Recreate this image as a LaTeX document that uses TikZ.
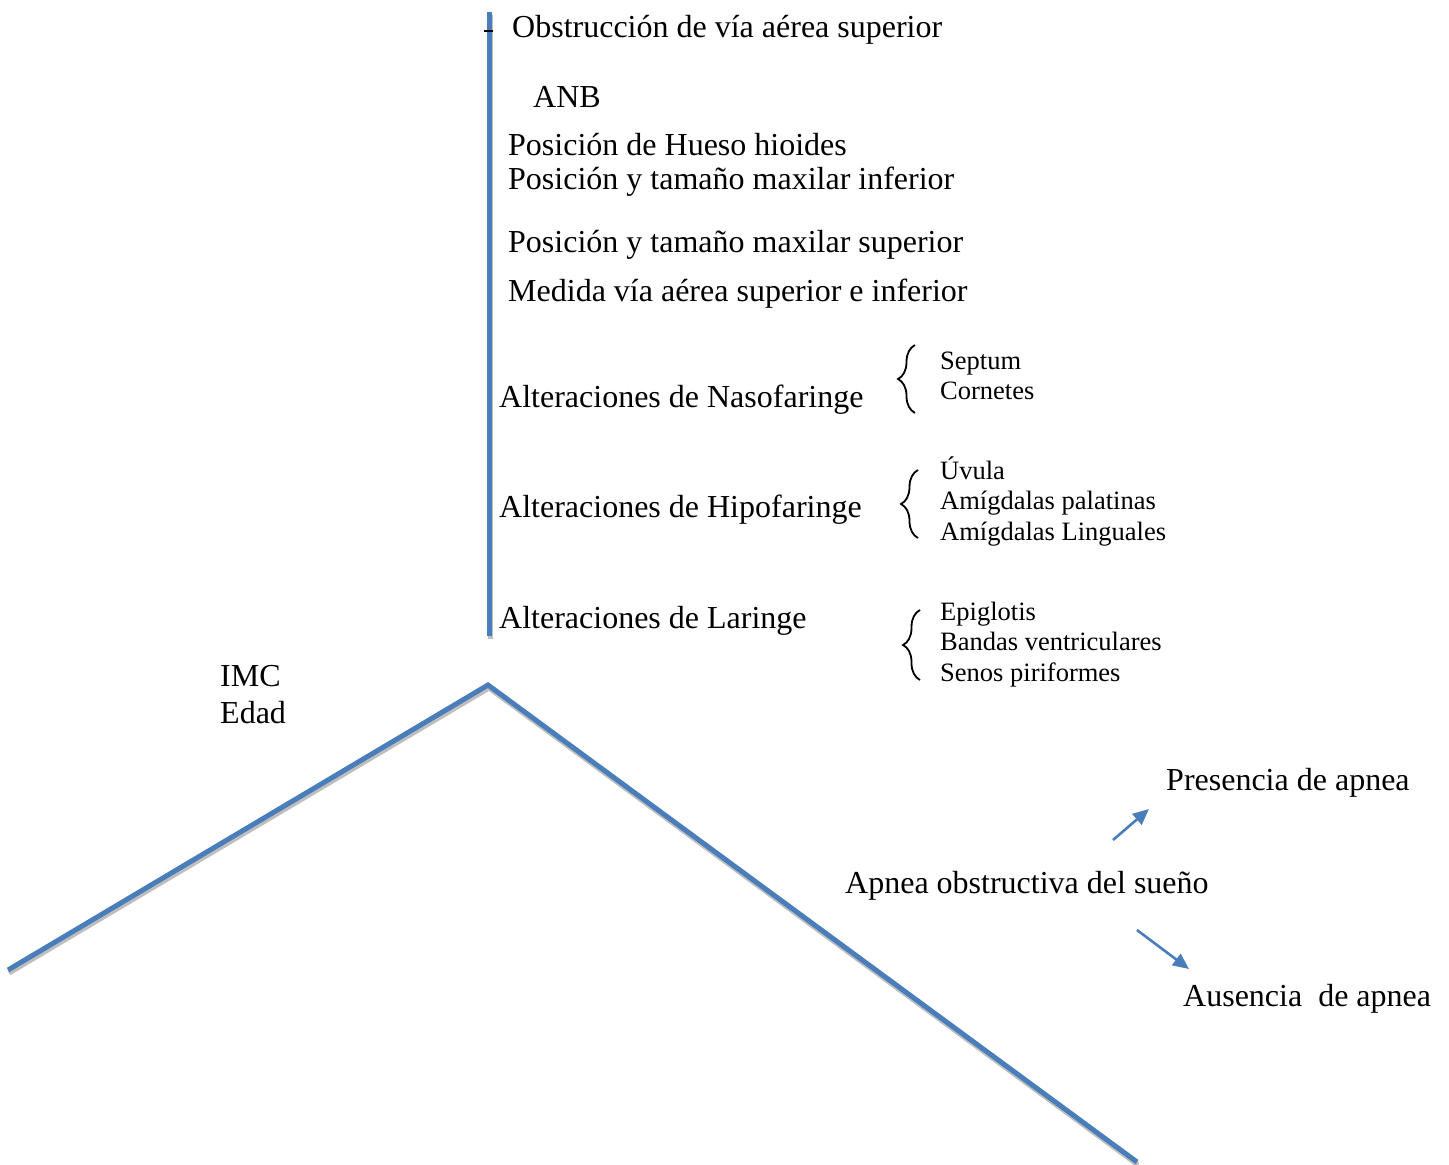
\documentclass[tikz,border=0pt]{standalone}
\usepackage{fontspec}
\setmainfont{Liberation Serif}
\usetikzlibrary{arrows.meta,decorations.pathreplacing}
\definecolor{lineblue}{RGB}{74,126,187}
\definecolor{shadowgray}{RGB}{190,190,190}
\tikzset{
  big/.style={anchor=base west,inner sep=0pt,font=\fontsize{32}{36}\selectfont},
  small/.style={anchor=base west,inner sep=0pt,font=\fontsize{26.5}{30}\selectfont},
  bar/.style={line width=5pt,draw=lineblue},
  barshade/.style={line width=5pt,draw=shadowgray},
  bracepath/.style={decorate,decoration={brace,amplitude=17pt,aspect=0.5},line width=1.8pt},
  arr/.style={line width=2.6pt,draw=lineblue,-{Triangle[length=16pt,width=14pt,fill=lineblue]}}
}
\begin{document}
\begin{tikzpicture}[x=1pt,y=-1pt]
\useasboundingbox (0,0) rectangle (1449,1165);
% skeleton coordinates
\coordinate (vtop) at (489,12);
\coordinate (vbot) at (489,636);
\coordinate (peak) at (488,685);
\coordinate (lend) at (8,970);
\coordinate (rend) at (1137,1162);
% shadows
\draw[barshade] ([shift={(1,3)}]vtop) -- ([shift={(1,3)}]vbot);
\draw[barshade,line join=miter] ([shift={(1,3)}]lend) -- ([shift={(1,3)}]peak) -- ([shift={(1,3)}]rend);
% main lines
\draw[bar] (vtop) -- (vbot);
\draw[bar,line join=miter] (lend) -- (peak) -- (rend);
% small dash
\coordinate (d1) at (484,31);
\coordinate (d2) at (493,31);
\draw[line width=1.5pt] (d1) -- (d2);
% texts
\node[big] (obs) at (512,37) {Obstrucción de vía aérea superior};
\node[big] (anb) at (533,107) {ANB};
\node[big] (hio) at (508,155) {Posición de Hueso hioides};
\node[big] (minf) at (508,189) {Posición y tamaño maxilar inferior};
\node[big] (msup) at (508,252) {Posición y tamaño maxilar superior};
\node[big] (med) at (508,301) {Medida vía aérea superior e inferior};
\node[big] (naso) at (499,407) {Alteraciones de Nasofaringe};
\node[big] (hipo) at (499,517) {Alteraciones de Hipofaringe};
\node[big] (lar) at (499,628) {Alteraciones de Laringe};
\node[big] (imc) at (220,686) {IMC};
\node[big] (edad) at (220,723) {Edad};
\node[big] (pres) at (1166,790) {Presencia de apnea};
\node[big] (aos) at (845,893) {Apnea obstructiva del sueño};
\node[big] (aus) at (1183,1006) {Ausencia\ \ de apnea};
\node[small] (sep) at (940,369) {Septum};
\node[small] (cor) at (940,399) {Cornetes};
\node[small] (uvu) at (940,479) {Úvula};
\node[small] (pal) at (940,509) {Amígdalas palatinas};
\node[small] (lin) at (940,540) {Amígdalas Linguales};
\node[small] (epi) at (940,620) {Epiglotis};
\node[small] (ban) at (940,650) {Bandas ventriculares};
\node[small] (sen) at (940,681) {Senos piriformes};
% braces
\coordinate (b1a) at (915,413); \coordinate (b1b) at (915,345);
\coordinate (b2a) at (918,538); \coordinate (b2b) at (918,470);
\coordinate (b3a) at (920,680); \coordinate (b3b) at (920,610);
\draw[bracepath] (b1a) -- (b1b);
\draw[bracepath] (b2a) -- (b2b);
\draw[bracepath] (b3a) -- (b3b);
% arrows
\coordinate (a1s) at (1113,840); \coordinate (a1e) at (1149,809);
\coordinate (a2s) at (1137,930); \coordinate (a2e) at (1189,969);
\draw[arr] (a1s) -- (a1e);
\draw[arr] (a2s) -- (a2e);
\end{tikzpicture}
\end{document}
